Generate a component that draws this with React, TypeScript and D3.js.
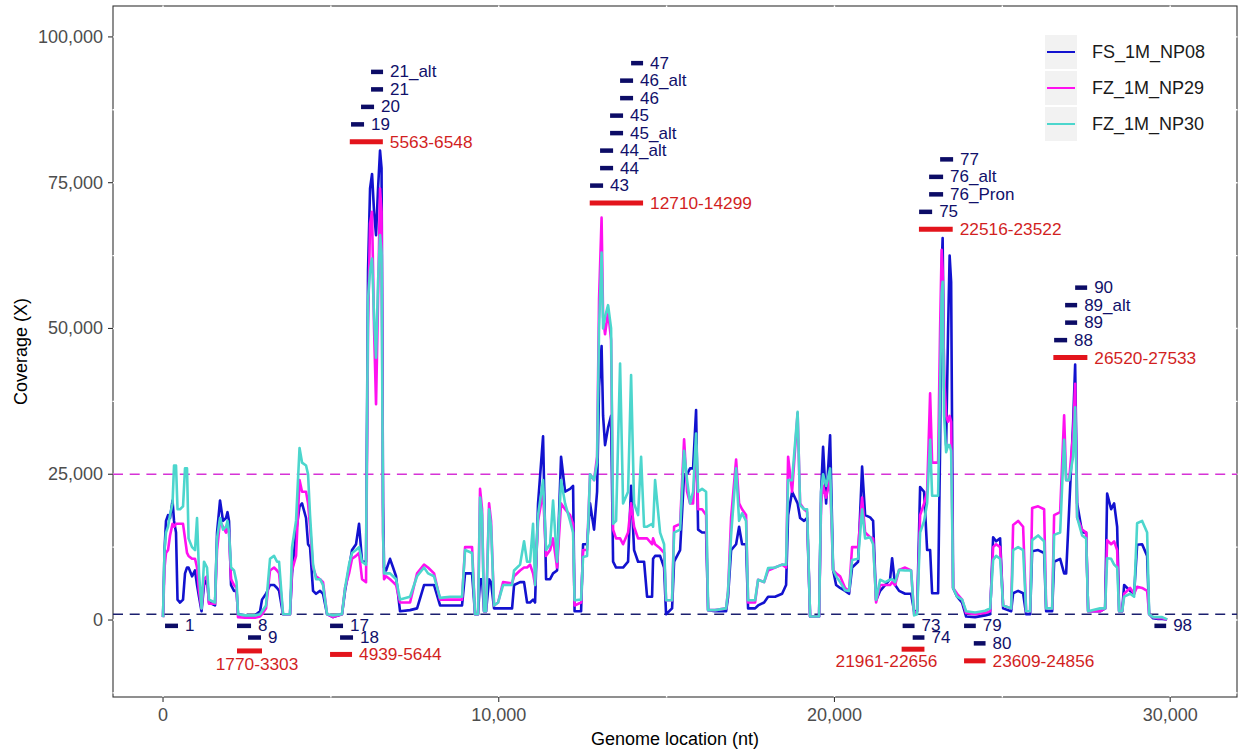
import * as d3 from "d3";

// genome positions (nt) where the coverage traces were read
const positions = [
  0, 45, 89, 149, 209, 283, 328, 387, 432, 506,
  596, 655, 715, 760, 864, 953, 1013, 1072, 1147, 1221,
  1311, 1370, 1549, 1609, 1698, 1787, 1877, 1921, 1966, 2026,
  2115, 2190, 2234, 2443, 2741, 2890, 2949, 3068, 3187, 3307,
  3396, 3456, 3575, 3783, 3843, 3962, 4066, 4141, 4260, 4320,
  4379, 4469, 4558, 4677, 4766, 4886, 5064, 5332, 5422, 5541,
  5630, 5749, 5839, 5928, 6047, 6107, 6167, 6226, 6286, 6345,
  6405, 6464, 6509, 6554, 6584, 6643, 6762, 6852, 6941, 7060,
  7358, 7567, 7775, 7894, 8073, 8252, 8550, 8907, 8997, 9205,
  9294, 9384, 9443, 9503, 9562, 9622, 9712, 9771, 9860, 9980,
  10129, 10397, 10456, 10635, 10754, 10844, 10933, 11022, 11082, 11171,
  11320, 11410, 11529, 11618, 11737, 11856, 11976, 12125, 12214, 12259,
  12453, 12512, 12631, 12720, 12839, 12929, 12988, 13063, 13108, 13167,
  13257, 13346, 13406, 13495, 13614, 13703, 13852, 13942, 14031, 14150,
  14240, 14329, 14418, 14567, 14597, 14657, 14806, 14925, 14984, 15163,
  15223, 15402, 15521, 15610, 15699, 15789, 15878, 15938, 16057, 16176,
  16236, 16444, 16772, 16831, 16921, 17070, 17159, 17248, 17367, 17427,
  17635, 17725, 17904, 18023, 18231, 18440, 18559, 18619, 18738, 18902,
  18976, 19095, 19185, 19274, 19542, 19602, 19661, 19751, 19870, 19959,
  20049, 20168, 20317, 20436, 20525, 20704, 20823, 20913, 21062, 21151,
  21240, 21359, 21508, 21657, 21717, 21806, 21925, 22104, 22283, 22372,
  22462, 22551, 22670, 22760, 22849, 22909, 23087, 23147, 23192, 23222,
  23266, 23326, 23385, 23430, 23475, 23534, 23653, 23802, 23921, 24189,
  24487, 24636, 24726, 24815, 24934, 25024, 25262, 25322, 25470, 25619,
  25709, 25828, 25888, 26066, 26245, 26305, 26484, 26543, 26722, 26841,
  26901, 26990, 27109, 27169, 27228, 27377, 27496, 27556, 27913, 28062,
  28122, 28241, 28330, 28420, 28479, 28569, 28628, 28807, 28926, 29015,
  29164, 29313, 29373, 29492, 29641, 29760, 29909,
];

// coverage in thousands (X)
const np08 = [
  0.5, 12, 17, 18, 17.5, 20.5, 17, 15, 3.5, 3,
  3.5, 8, 9, 9, 7.5, 8.5, 6, 4, 1.5, 6,
  7, 3, 2.5, 15, 20.5, 17, 17.5, 18.5, 17, 6,
  5, 5, 1, 0.8, 0.8, 1.5, 3.5, 4.5, 6, 6,
  5.5, 5, 1, 1, 8, 15, 19.5, 20, 17.5, 13,
  12.5, 5, 4.5, 5, 4.5, 1, 0.5, 1, 5, 9,
  12, 13, 16.5, 10, 10, 60, 74, 76.5, 70, 66,
  74, 80.5, 77.5, 20, 9, 8.5, 10.5, 9, 7.5, 1.5,
  1.7, 2, 6, 6, 6, 2.5, 2.5, 2.5, 8, 8,
  1, 1, 7, 7, 1.5, 1.5, 7, 6.5, 2, 2,
  2, 2, 6, 6.5, 6.5, 3, 3, 3.5, 3, 20,
  31.5, 7, 7, 8, 8.5, 28, 22, 22.5, 23, 1.5,
  1.5, 13, 13, 20, 15.5, 22, 40, 47, 35, 30,
  33, 35, 10, 9, 9, 9, 10, 23, 12, 10,
  10, 10, 4, 4, 10.5, 11, 11, 9, 1, 2,
  10, 12, 25, 25, 26, 26, 36, 15.5, 15, 15,
  1.7, 1.5, 1.5, 4, 12, 13, 16, 13, 13, 2,
  2, 2.5, 3, 4, 4, 4.5, 6, 18, 22, 20,
  17.5, 17, 17.5, 0.6, 0.6, 22, 29.7, 20, 31.7, 8.6,
  6, 5.5, 5, 4.5, 9, 10, 26.3, 18, 17.6, 17,
  3.4, 5, 6, 7, 10.6, 6, 5, 4.5, 4.5, 1.5,
  1.5, 22.8, 22, 12, 12, 4.6, 4.6, 30, 60, 65.5,
  40, 30, 50, 62.5, 58, 5.5, 4, 3, 0.6, 0.5,
  0.8, 1, 14.2, 13.5, 14, 2, 1.5, 4.6, 5, 4.6,
  1, 1, 11.8, 12, 11.5, 1.5, 1.5, 10, 10.5, 8,
  8, 19, 33.8, 43.8, 20, 15, 15, 1.5, 1.5, 2,
  21.7, 19, 20, 16, 1.5, 1.5, 6, 5, 4.5, 12.9,
  13, 11, 1, 0.3, 0.2, 0.2, 0.1,
];

const np29 = [
  0.5, 9, 11.5, 12, 14.5, 16.5, 16, 16.5, 16.5, 16.5,
  16.5, 14, 11.5, 11, 10.5, 10.5, 9, 5, 2, 7,
  7.5, 2.8, 2.8, 12, 17, 16, 15, 16, 15, 7,
  6, 5.5, 0.5, 0.4, 0.4, 0.6, 1, 2, 8.5, 9,
  8.5, 8, 1, 1, 8.5, 11, 24, 22, 22, 20,
  16, 9, 7.5, 7, 6.5, 1, 0.5, 1, 5.5, 8,
  10.5, 11, 11.5, 7, 6.5, 50, 68, 70, 50, 37,
  55, 74, 70, 15, 7, 7.5, 7, 6.5, 6, 3,
  3, 8, 9.5, 9, 8, 3.5, 3.5, 3.5, 12.5, 12.5,
  1, 1, 22.5, 19, 1.5, 1.5, 20, 17, 2.5, 3,
  6.5, 6.3, 7.5, 8.5, 9, 9, 9.5, 8, 6, 17,
  22, 11, 12, 14, 9, 20, 19, 18, 16.5, 2.5,
  3, 12, 12, 25, 24, 28, 55, 69, 52, 49,
  53, 48, 15.5, 14, 14, 13, 15, 20, 16, 14,
  14, 14, 14, 13, 14, 13, 12.3, 11.5, 3.4, 3.4,
  16, 16.5, 31, 22, 20, 20, 30, 19, 19, 18,
  1.7, 1.7, 2, 5, 17.5, 27.5, 20, 19, 18, 3,
  3, 6.9, 6.5, 8.5, 9, 9.5, 9, 28, 22, 35.5,
  20, 19, 18.5, 0.6, 0.6, 20, 23, 21, 24, 8.6,
  8, 7.5, 5.5, 5, 12.5, 12.5, 21, 15, 14.2, 14,
  3, 6, 6, 6, 6.5, 6, 8.6, 9, 8.5, 1,
  1.5, 18, 20, 22, 38.9, 27, 27, 50, 63.5, 60,
  42, 35, 34, 35, 34, 5.5, 4.5, 3.5, 1.2, 1,
  1.2, 1.5, 12.5, 13, 12.5, 2.5, 2, 16.3, 17, 16,
  1.5, 1.5, 19.2, 19.5, 19, 2, 2, 18, 18.5, 35.1,
  24, 24, 32, 40.5, 17.6, 15.5, 15, 1.5, 1.5, 2,
  13.7, 13, 13.5, 12, 1.5, 1.5, 4.5, 5.5, 4.5, 5.7,
  5.5, 5, 1, 0.5, 0.3, 0.3, 0.1,
];

const np30 = [
  0.5, 12, 15, 16, 18, 20, 26.5, 26.5, 19, 19,
  19.5, 26, 26, 14, 12.5, 12, 17.5, 8, 2, 10,
  9, 3.5, 3, 14, 17.5, 15.5, 16, 17, 15, 9,
  8.5, 6.5, 1, 0.8, 0.8, 1, 1.5, 2.5, 10.5, 11,
  10, 10, 1, 1, 12.5, 17, 29.5, 27, 26.5, 25,
  18, 9.5, 7, 7, 6, 1, 0.8, 1, 5.5, 9.5,
  11.5, 12, 12.5, 10, 9.5, 55, 60, 62, 52, 45,
  58, 66, 63, 15, 8, 8, 8, 7.5, 7, 3.5,
  4, 7.5, 9, 8, 7.5, 3.8, 4, 4, 12, 11.5,
  1, 1, 21, 18, 1.5, 1.5, 19, 16, 2.5, 3,
  6, 6, 8.5, 9.5, 13.5, 10, 10, 16.5, 6, 18,
  24, 12, 13, 20.5, 10, 24, 20, 17, 15, 3.4,
  3.5, 10.8, 11, 25, 24, 27, 50, 63, 50, 52,
  54, 50, 16.5, 17, 44, 20, 22, 42, 20, 18,
  28, 16, 16, 16.5, 16, 24, 15, 13, 3.4, 3.4,
  15, 15.5, 29, 24, 20, 22, 32, 22, 22.5, 22,
  1.7, 1.7, 2, 5, 14.5, 26, 17, 18.3, 17, 3.4,
  3.4, 6.9, 6.5, 8.9, 9, 9.5, 9.5, 24, 24, 35.7,
  19.7, 19, 19, 0.6, 0.6, 22, 25, 23, 26, 8.6,
  7.5, 6.5, 5.1, 5, 10.3, 10.5, 19, 14, 14.2, 13,
  3.5, 6.9, 6.5, 6.9, 7, 6.5, 8.6, 8.5, 8.5, 0.8,
  1, 15, 17, 20, 30.9, 21.3, 21.3, 40, 56, 58,
  35, 28.8, 30, 30, 29, 5.5, 4, 3.5, 1.5, 1.3,
  1.6, 2, 10.3, 11, 10.5, 2.5, 2, 12, 12.5, 12,
  1.5, 1.5, 13.7, 14.5, 13.5, 2, 2, 14.6, 15, 30.9,
  24, 24, 28, 36.5, 17.6, 14.5, 14, 1.5, 2, 2,
  10.6, 10.5, 9.5, 9, 1.5, 1.5, 4, 4.5, 4, 16.6,
  17, 15, 1, 0.5, 0.5, 0.5, 0.1,
];

const seriesNames = ["FS_1M_NP08", "FZ_1M_NP29", "FZ_1M_NP30"];
const seriesColors = ["#1212cf", "#ff10f0", "#4cd6cd"];

const yTicks = [0, 25, 50, 75, 100]; // thousands
const xTicks = [0, 10000, 20000, 30000];
const refLines = [25, 1]; // thousands
const refColors = ["#d633d6", "#1b1f6e"];

// amplicon markers (navy), y in thousands
const ampLabels = ["19", "20", "21", "21_alt", "43", "44", "44_alt", "45_alt", "45", "46", "46_alt", "47",
  "75", "76_Pron", "76_alt", "77", "88", "89", "89_alt", "90",
  "1", "8", "9", "17", "18", "73", "74", "79", "80", "98"];
const ampStart = [5600, 5898, 6196, 6196, 12720, 13018, 13018, 13316, 13316, 13614, 13614, 13942,
  22521, 22819, 22819, 23147, 26543, 26870, 26870, 27169,
  60, 2204, 2532, 4975, 5273, 22030, 22330, 23860, 24150, 29530];
const ampEnd = [5988, 6286, 6554, 6554, 13108, 13406, 13406, 13703, 13703, 14001, 14001, 14299,
  22909, 23236, 23236, 23534, 26930, 27228, 27228, 27526,
  447, 2622, 2919, 5362, 5660, 22385, 22680, 24210, 24500, 29880];
const ampY = [85, 88, 91, 94, 74.5, 77.5, 80.5, 83.5, 86.5, 89.5, 92.5, 95.5,
  70, 73, 76, 79, 48, 51, 54, 57,
  -1, -1, -3, -1, -3, -1, -3, -1, -4, -1];

// deletion / region markers (red)
const rangeLabels = ["5563-6548", "12710-14299", "22516-23522", "26520-27533",
  "1770-3303", "4939-5644", "21961-22656", "23609-24856"];
const rangeStart = [5563, 12710, 22516, 26520, 2204, 4975, 22000, 23860];
const rangeEnd = [6548, 14299, 23522, 27533, 2949, 5630, 22680, 24500];
const rangeY = [82, 71.5, 67, 45, -5.3, -5.9, -5, -7];
// labels placed under the bar: [x nt, y thousands]; null = right of bar
const rangeLabelAt: ([number, number] | null)[] = [null, null, null, null, [2800, -7.5], null, [21550, -7.0], null];

const W = 1238, H = 749;
const FONT = "'Liberation Sans', Arial, Helvetica, sans-serif";

export default function App() {
  const x = d3.scaleLinear().domain([-1490, 31990]).range([113, 1237]);
  const y = d3.scaleLinear().domain([-13.2, 105.3]).range([697, 6]);
  const [x0, x1] = x.range();
  const [y0, y1] = y.range();

  const line = d3.line<number>()
    .x((_, i) => x(positions[i]))
    .y((v) => y(v));

  const series = [np08, np29, np30];
  const fmt = d3.format(",");

  const gridX = d3.range(0, 30001, 5000);
  const gridY = d3.range(-12.5, 101, 12.5);

  return (
    <svg width={W} height={H} style={{ position: "absolute", left: 0, top: 0, background: "#fff" }} fontFamily={FONT}>
      <rect x={0} y={0} width={W} height={H} fill="#fff" />
      {/* panel border */}
      <rect x={x0} y={y1} width={x1 - x0} height={y0 - y1} fill="none" stroke="#333" strokeWidth={1.1} />
      {/* white grid lines (only visible where they cut the border) */}
      {gridX.map((g) => (
        <line key={"gx" + g} x1={x(g)} x2={x(g)} y1={y1 - 0.5} y2={y0 + 0.5} stroke="#fff" strokeWidth={1.4} />
      ))}
      {gridY.map((g) => (
        <line key={"gy" + g} x1={x0 - 0.5} x2={x1 + 0.5} y1={y(g)} y2={y(g)} stroke="#fff" strokeWidth={1.4} />
      ))}

      {/* axes ticks and labels */}
      {yTicks.map((t) => (
        <g key={"yt" + t}>
          <line x1={x0 - 5} x2={x0} y1={y(t)} y2={y(t)} stroke="#333" strokeWidth={1.1} />
          <text x={x0 - 10} y={y(t)} textAnchor="end" dominantBaseline="central" fontSize={18} fill="#4d4d4d">
            {fmt(t * 1000)}
          </text>
        </g>
      ))}
      {xTicks.map((t) => (
        <g key={"xt" + t}>
          <line x1={x(t)} x2={x(t)} y1={y0} y2={y0 + 5} stroke="#333" strokeWidth={1.1} />
          <text x={x(t)} y={y0 + 18} textAnchor="middle" dominantBaseline="central" fontSize={18} fill="#4d4d4d">
            {fmt(t)}
          </text>
        </g>
      ))}
      <text x={(x0 + x1) / 2} y={739} textAnchor="middle" dominantBaseline="central" fontSize={18} fill="#000">
        Genome location (nt)
      </text>
      <text transform={`translate(20.5,${(y0 + y1) / 2}) rotate(-90)`} textAnchor="middle" dominantBaseline="central" fontSize={18} fill="#000">
        Coverage (X)
      </text>

      {/* reference lines */}
      {refLines.map((r, i) => (
        <line key={"ref" + r} x1={x0} x2={x1} y1={y(r)} y2={y(r)} stroke={refColors[i]} strokeWidth={1.6} strokeDasharray="10,6.7" />
      ))}

      {/* coverage traces */}
      {series.map((s, i) => (
        <path key={seriesNames[i]} d={line(s) || ""} fill="none" stroke={seriesColors[i]} strokeWidth={2.6} strokeLinejoin="round" />
      ))}

      {/* amplicon markers */}
      {ampLabels.map((lab, i) => (
        <g key={"amp" + i}>
          <line x1={x(ampStart[i])} x2={x(ampEnd[i])} y1={y(ampY[i])} y2={y(ampY[i])} stroke="#0c0c66" strokeWidth={4.5} />
          <text x={x(ampEnd[i]) + 7} y={y(ampY[i])} dominantBaseline="central" fontSize={17} fill="#10106a">
            {lab}
          </text>
        </g>
      ))}

      {/* region markers */}
      {rangeLabels.map((lab, i) => {
        const at = rangeLabelAt[i];
        return (
          <g key={"rng" + i}>
            <line x1={x(rangeStart[i])} x2={x(rangeEnd[i])} y1={y(rangeY[i])} y2={y(rangeY[i])} stroke="#e3141c" strokeWidth={5} />
            {at ? (
              <text x={x(at[0])} y={y(at[1])} textAnchor="middle" dominantBaseline="central" fontSize={17.3} fill="#d21f1f">
                {lab}
              </text>
            ) : (
              <text x={x(rangeEnd[i]) + 7} y={y(rangeY[i])} dominantBaseline="central" fontSize={17.3} fill="#d21f1f">
                {lab}
              </text>
            )}
          </g>
        );
      })}

      {/* legend */}
      {seriesNames.map((n, i) => {
        const top = 35 + i * 36;
        return (
          <g key={"leg" + n}>
            <rect x={1045} y={top} width={32} height={34} fill="#f2f2f2" />
            <line x1={1047} x2={1075} y1={top + 17} y2={top + 17} stroke={seriesColors[i]} strokeWidth={2} />
            <text x={1092} y={top + 17} dominantBaseline="central" fontSize={18} fill="#1a1a1a">
              {n}
            </text>
          </g>
        );
      })}
    </svg>
  );
}
